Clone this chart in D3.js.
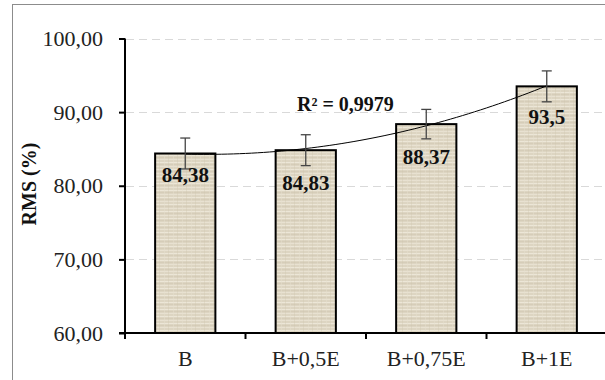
<!DOCTYPE html>
<html>
<head>
<meta charset="utf-8">
<script src="https://cdn.jsdelivr.net/npm/d3@7"></script>
<style>
  html, body { margin: 0; padding: 0; background: #fff; }
  svg { display: block; }
</style>
</head>
<body>
<svg id="chart" width="605" height="380"></svg>
<script>
// Treatments and mean RMS (%) with standard deviations
const categories = ["B", "B+0,5E", "B+0,75E", "B+1E"];
const rmsValues = [84.38, 84.83, 88.37, 93.5];
const rmsLabels = ["84,38", "84,83", "88,37", "93,5"];
const rmsErrors = [2.1, 2.1, 2.0, 2.1];
const yTicks = [60, 70, 80, 90, 100];
const r2Label = "R² = 0,9979";

const SERIF = "'Liberation Serif', 'Times New Roman', serif";
const svg = d3.select("#chart");
const W = 605;

// Outer frame
svg.append("rect")
  .attr("x", 12.5).attr("y", 4.5)
  .attr("width", 620).attr("height", 400)
  .attr("fill", "none").attr("stroke", "#8c8c8c").attr("stroke-width", 1);

const x = d3.scaleBand()
  .domain(categories)
  .range([125, 607])
  .paddingInner(0.5)
  .paddingOuter(0.25);

const y = d3.scaleLinear().domain([60, 100]).range([333, 38.5]);

// Linen-like texture for the bars
const defs = svg.append("defs");
const pat = defs.append("pattern")
  .attr("id", "linen")
  .attr("patternUnits", "userSpaceOnUse")
  .attr("width", 9).attr("height", 7);
pat.append("rect").attr("width", 9).attr("height", 7).attr("fill", "#ddd5c2");
[[1, "#eee8da", 0.9], [3, "#d0c6b0", 0.5], [5, "#ebe4d4", 0.8]].forEach(([py, c, o]) => {
  pat.append("rect").attr("x", 0).attr("y", py).attr("width", 9).attr("height", 1).attr("fill", c).attr("opacity", o);
});
[[2, "#e6dfce", 0.5], [6, "#cfc5ae", 0.35]].forEach(([px, c, o]) => {
  pat.append("rect").attr("x", px).attr("y", 0).attr("width", 1).attr("height", 7).attr("fill", c).attr("opacity", o);
});

// Gridlines
svg.append("g")
  .selectAll("line")
  .data(yTicks.filter(t => t > 60))
  .join("line")
  .attr("x1", 126).attr("x2", W)
  .attr("y1", d => Math.round(y(d)) + 0.5).attr("y2", d => Math.round(y(d)) + 0.5)
  .attr("stroke", "#d9d9d9").attr("stroke-width", 1)
  .attr("stroke-dasharray", "8,5");

// Bars
const data = categories.map((c, i) => ({ c, v: rmsValues[i], e: rmsErrors[i], label: rmsLabels[i] }));
svg.append("g")
  .selectAll("rect")
  .data(data)
  .join("rect")
  .attr("x", d => x(d.c))
  .attr("y", d => y(d.v))
  .attr("width", x.bandwidth())
  .attr("height", d => y(60) - y(d.v))
  .attr("fill", "url(#linen)")
  .attr("stroke", "#000").attr("stroke-width", 2);

// Quadratic trend line (least squares over category index)
function quadFit(xs, ys) {
  const n = xs.length;
  const s = [0, 0, 0, 0, 0], t = [0, 0, 0];
  for (let i = 0; i < n; i++) {
    for (let k = 0; k < 5; k++) s[k] += Math.pow(xs[i], k);
    for (let k = 0; k < 3; k++) t[k] += ys[i] * Math.pow(xs[i], k);
  }
  const A = [[s[0], s[1], s[2], t[0]], [s[1], s[2], s[3], t[1]], [s[2], s[3], s[4], t[2]]];
  for (let i = 0; i < 3; i++) {
    for (let j = i + 1; j < 3; j++) {
      const f = A[j][i] / A[i][i];
      for (let k = i; k < 4; k++) A[j][k] -= f * A[i][k];
    }
  }
  const c = [0, 0, 0];
  for (let i = 2; i >= 0; i--) {
    let sum = A[i][3];
    for (let k = i + 1; k < 3; k++) sum -= A[i][k] * c[k];
    c[i] = sum / A[i][i];
  }
  return c;
}
const idx = categories.map((_, i) => i + 1);
const coef = quadFit(idx, rmsValues);
const xi = d3.scaleLinear().domain([1, categories.length])
  .range([x(categories[0]) + x.bandwidth() / 2, x(categories[categories.length - 1]) + x.bandwidth() / 2]);
const trendPts = d3.range(1, categories.length + 0.001, 0.05)
  .map(t => [xi(t), y(coef[0] + coef[1] * t + coef[2] * t * t)]);
svg.append("path")
  .attr("d", d3.line()(trendPts))
  .attr("fill", "none").attr("stroke", "#000").attr("stroke-width", 1);

// Error bars
const eg = svg.append("g").attr("stroke", "#454545").attr("stroke-width", 1.3);
data.forEach(d => {
  const cx = x(d.c) + x.bandwidth() / 2;
  eg.append("line").attr("x1", cx).attr("x2", cx).attr("y1", y(d.v + d.e)).attr("y2", y(d.v - d.e));
  eg.append("line").attr("x1", cx - 5).attr("x2", cx + 5).attr("y1", y(d.v + d.e)).attr("y2", y(d.v + d.e));
  eg.append("line").attr("x1", cx - 5).attr("x2", cx + 5).attr("y1", y(d.v - d.e)).attr("y2", y(d.v - d.e));
});

// Value labels inside bars
const labelDy = [28, 40, 40, 38];
svg.append("g")
  .selectAll("text")
  .data(data)
  .join("text")
  .attr("x", d => x(d.c) + x.bandwidth() / 2)
  .attr("y", (d, i) => y(d.v) + labelDy[i])
  .attr("text-anchor", "middle")
  .style("font-family", SERIF).style("font-size", "21px").style("font-weight", "bold")
  .attr("fill", "#111")
  .text(d => d.label);

// R² annotation
svg.append("text")
  .attr("x", 297).attr("y", 111)
  .style("font-family", SERIF).style("font-size", "20px").style("font-weight", "bold")
  .attr("fill", "#111")
  .text(r2Label);

// Y axis
const yAxis = svg.append("g").attr("transform", "translate(125,0)")
  .call(d3.axisLeft(y).tickValues(yTicks).tickSize(6).tickPadding(16)
    .tickFormat(d => d3.format(".2f")(d).replace(".", ",")));
yAxis.select(".domain").attr("stroke", "#000").attr("stroke-width", 2).attr("d", `M0,${y(100)}V${y(60)}`);
yAxis.selectAll(".tick line").attr("stroke", "#000").attr("stroke-width", 2);
yAxis.selectAll(".tick text")
  .style("font-family", SERIF).style("font-size", "22px").attr("fill", "#222");

// X axis
const xAxis = svg.append("g").attr("transform", `translate(0,${y(60)})`);
xAxis.append("line").attr("x1", 119).attr("x2", W).attr("y1", 0).attr("y2", 0)
  .attr("stroke", "#000").attr("stroke-width", 2);
const boundaries = categories.map(c => x(c) - x.step() * x.paddingInner() / 2)
  .concat([x(categories[categories.length - 1]) + x.bandwidth() + x.step() * x.paddingInner() / 2]);
xAxis.selectAll("line.tk")
  .data(boundaries)
  .join("line").attr("class", "tk")
  .attr("x1", d => d).attr("x2", d => d).attr("y1", 0).attr("y2", 6)
  .attr("stroke", "#000").attr("stroke-width", 2);
xAxis.selectAll("text")
  .data(categories)
  .join("text")
  .attr("x", c => x(c) + x.bandwidth() / 2)
  .attr("y", 33)
  .attr("text-anchor", "middle")
  .style("font-family", SERIF).style("font-size", "22px").attr("fill", "#222")
  .text(c => c);

// Y axis title
svg.append("text")
  .attr("transform", "translate(36,184) rotate(-90)")
  .attr("text-anchor", "middle")
  .style("font-family", SERIF).style("font-size", "20px").style("font-weight", "bold")
  .attr("fill", "#111")
  .text("RMS (%)");
</script>
</body>
</html>
